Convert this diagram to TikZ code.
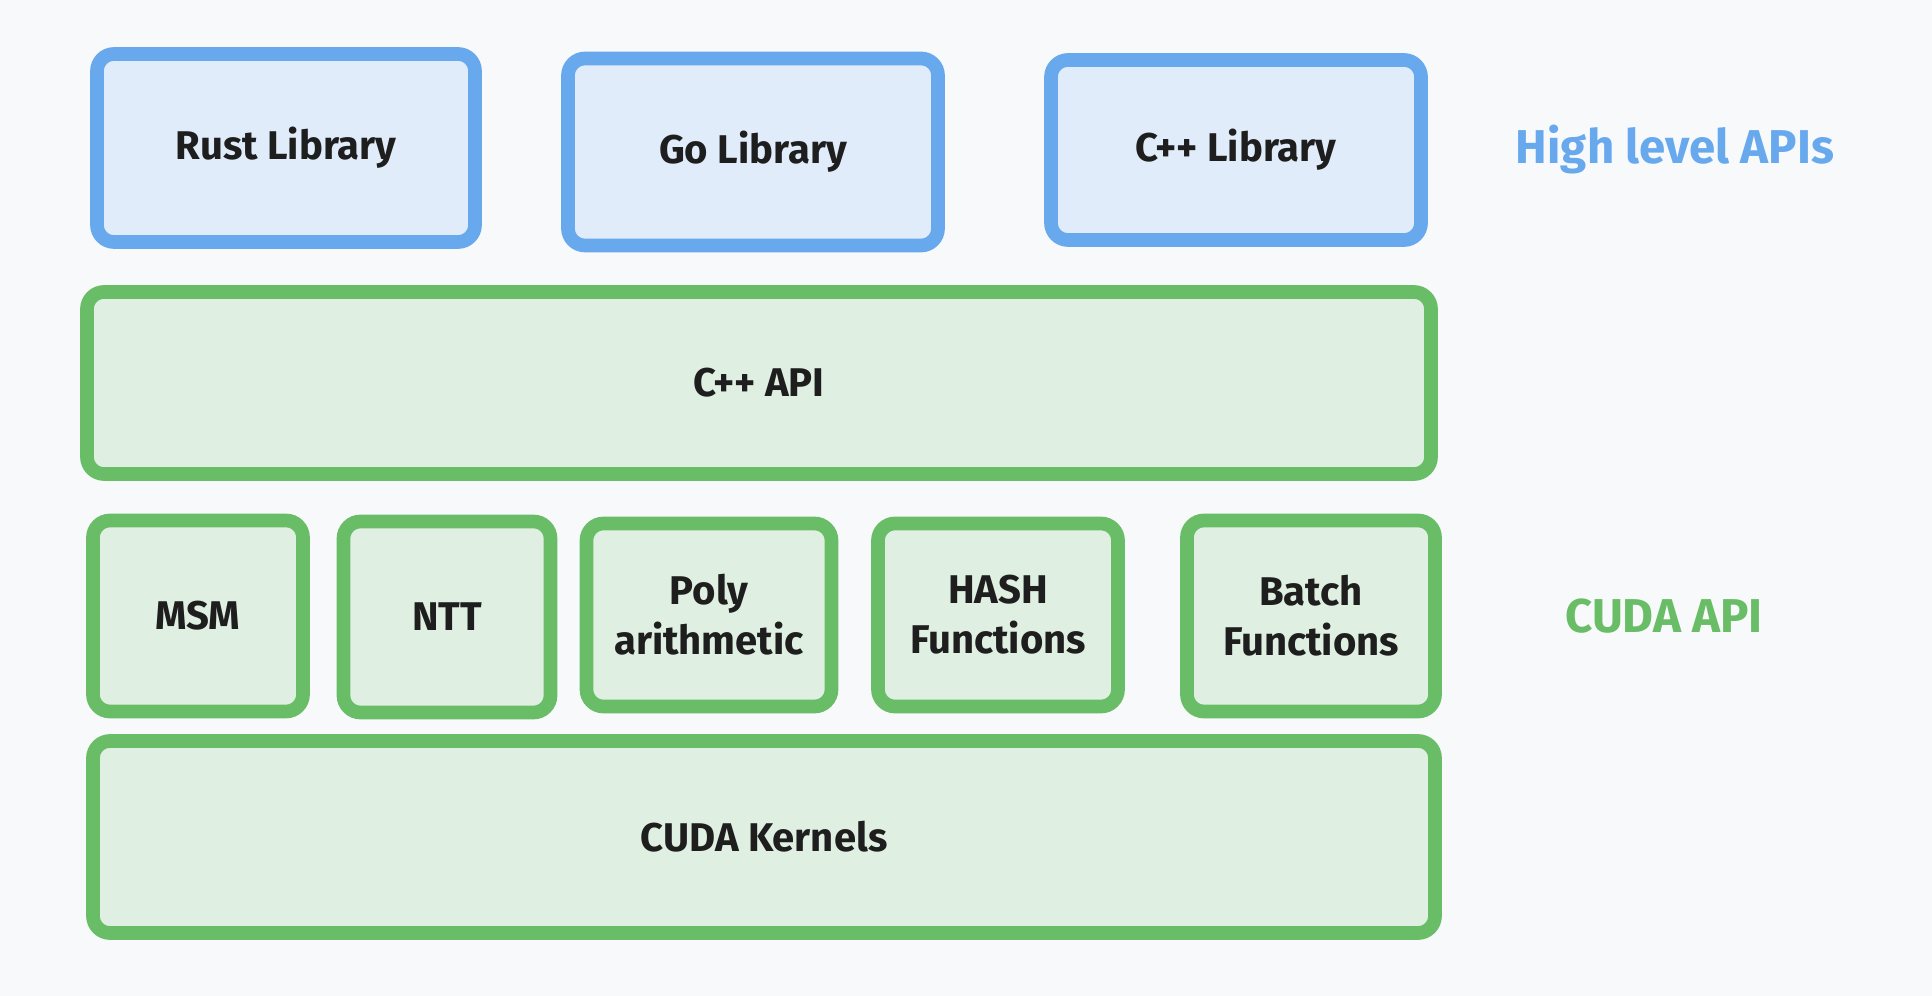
\documentclass[tikz,border=0pt]{standalone}
\usepackage{fontspec}
\setmainfont{Fira Sans}
\usepackage{tikz}
\usetikzlibrary{positioning}

\definecolor{bgpaper}{HTML}{F8F9FB}
\definecolor{apiblue}{HTML}{68A9EE}
\definecolor{apibluefill}{HTML}{E0ECFA}
\definecolor{cudagreen}{HTML}{68BD66}
\definecolor{cudagreenfill}{HTML}{DFEFE2}
\definecolor{inkblack}{HTML}{1E1E1E}

\begin{document}
\begin{tikzpicture}[
  x=0.1mm, y=-0.1mm,
  lib/.style={rectangle, draw=apiblue, fill=apibluefill, line width=3.9pt, rounded corners=1.7mm, align=center, text=inkblack, font=\fontsize{11.4}{14.2}\selectfont\bfseries, inner sep=0pt},
  layer/.style={rectangle, draw=cudagreen, fill=cudagreenfill, line width=3.9pt, rounded corners=1.7mm, align=center, text=inkblack, font=\fontsize{11.4}{14.2}\selectfont\bfseries, inner sep=0pt},
  tag/.style={font=\fontsize{13.5}{16}\selectfont\bfseries, inner sep=0pt}
]

\fill[bgpaper] (0,0) rectangle (1932,996);
\useasboundingbox (0,0) rectangle (1932,996);

% high level libraries
\node[lib, minimum width=37.8mm, minimum height=18.8mm] (rust) at (286,148) {Rust Library};
\node[lib, minimum width=37.0mm, minimum height=18.7mm] (golib) at (753,152) {Go Library};
\node[lib, minimum width=37.0mm, minimum height=18.0mm] (cpplib) at (1236,150) {C++ Library};
\node[tag, text=apiblue] (highapi) at (1675,150) {High level APIs};

% C++ API layer
\node[layer, minimum width=134.4mm, minimum height=18.2mm] (cppapi) at (759,383) {C++ API};

% CUDA API blocks
\node[layer, minimum width=21.0mm, minimum height=19.1mm] (msm) at (198,616) {MSM};
\node[layer, minimum width=20.7mm, minimum height=19.1mm] (ntt) at (447,617) {NTT};
\node[layer, minimum width=24.5mm, minimum height=18.3mm] (poly) at (709,615) {Poly\\arithmetic};
\node[layer, minimum width=24.0mm, minimum height=18.3mm] (hash) at (998,615) {HASH\\Functions};
\node[layer, minimum width=24.8mm, minimum height=19.1mm] (batch) at (1311,616) {Batch\\Functions};
\node[tag, text=cudagreen] (cudaapi) at (1664,616) {CUDA API};

% kernels
\node[layer, minimum width=134.2mm, minimum height=19.2mm] (kernels) at (764,837) {CUDA Kernels};

\end{tikzpicture}
\end{document}
